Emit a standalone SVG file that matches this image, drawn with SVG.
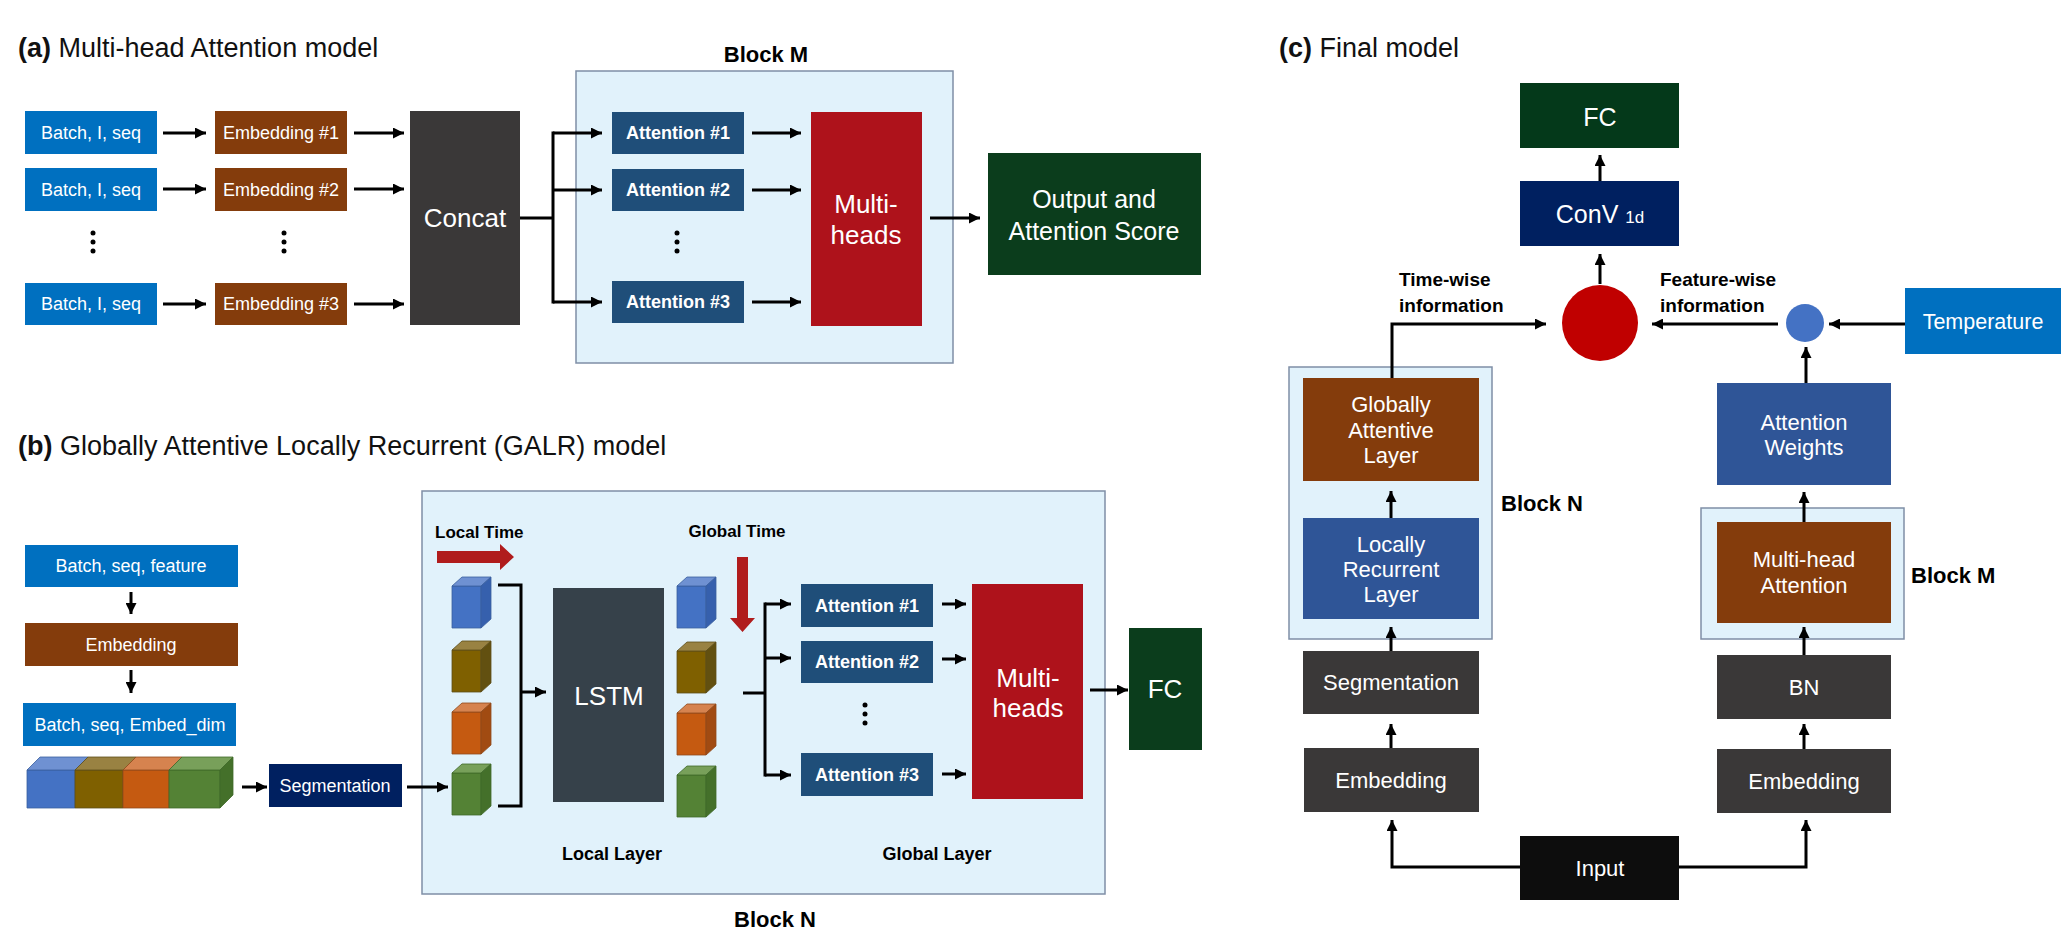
<svg xmlns="http://www.w3.org/2000/svg" width="2069" height="938" viewBox="0 0 2069 938">
<style>
text{font-family:"Liberation Sans",Arial,sans-serif;}
.t{fill:#fff;text-anchor:middle;}
.s18{font-size:18px;}
.s22{font-size:22px;}
.s26{font-size:26px;}
.b{font-weight:bold;}
.lbl{fill:#000;font-weight:bold;}
.title{font-size:27px;fill:#111;}
.blue{fill:#0070c0;}
.brown{fill:#843c0c;}
.gray{fill:#3a3838;}
.att{fill:#1f4e79;}
.mh{fill:#ae121b;}
.green{fill:#0b3d1c;}
.navy{fill:#002060;}
.lstm{fill:#36414a;}
.mblue{fill:#2f5597;}
.blk{fill:#e1f2fb;stroke:#7f8ea6;stroke-width:1.5;}
.ln{fill:none;stroke:#000;stroke-width:3;}
.ar{marker-end:url(#ah);}
.dot{fill:#000;}
.cb{stroke-width:0.8;stroke-linejoin:round;}
.cblue .f{fill:#4472c4}.cblue .tp{fill:#6f91d2}.cblue .sd{fill:#3660ad}.cblue{stroke:#3a5f9e}
.colive .f{fill:#7f6000}.colive .tp{fill:#998242}.colive .sd{fill:#625010}.colive{stroke:#5d4e1a}
.corange .f{fill:#c55a11}.corange .tp{fill:#d6834f}.corange .sd{fill:#a14b12}.corange{stroke:#8f4a1c}
.cgreen .f{fill:#548235}.cgreen .tp{fill:#78a05a}.cgreen .sd{fill:#44702a}.cgreen{stroke:#3f6a2a}
</style>
<defs>
<marker id="ah" viewBox="0 0 10 10" refX="10" refY="5" markerWidth="11" markerHeight="11" markerUnits="userSpaceOnUse" orient="auto"><path d="M0,0 L10,5 L0,10 z" fill="#000"/></marker>
</defs>
<rect width="2069" height="938" fill="#fff"/>

<!-- Titles -->
<text x="18" y="57" class="title"><tspan font-weight="bold">(a)</tspan> Multi-head Attention model</text>
<text x="18" y="455" class="title"><tspan font-weight="bold">(b)</tspan> Globally Attentive Locally Recurrent (GALR) model</text>
<text x="1279" y="57" class="title"><tspan font-weight="bold">(c)</tspan> Final model</text>

<!-- ===== (a) ===== -->
<g id="a-blockM">
<rect class="blk" x="576" y="71" width="377" height="292"/>
<text x="766" y="62" class="lbl s22" text-anchor="middle">Block M</text>
</g>
<g id="a-batch1"><rect class="blue" x="25" y="111" width="132" height="43"/><text class="t s18" x="91" y="139">Batch, I, seq</text></g>
<g id="a-batch2"><rect class="blue" x="25" y="168" width="132" height="43"/><text class="t s18" x="91" y="196">Batch, I, seq</text></g>
<g id="a-batch3"><rect class="blue" x="25" y="283" width="132" height="42"/><text class="t s18" x="91" y="310">Batch, I, seq</text></g>
<g id="a-emb1"><rect class="brown" x="215" y="111" width="132" height="43"/><text class="t s18" x="281" y="139">Embedding #1</text></g>
<g id="a-emb2"><rect class="brown" x="215" y="168" width="132" height="43"/><text class="t s18" x="281" y="196">Embedding #2</text></g>
<g id="a-emb3"><rect class="brown" x="215" y="283" width="132" height="42"/><text class="t s18" x="281" y="310">Embedding #3</text></g>
<g id="a-dots"><circle class="dot" cx="93" cy="233" r="2.5"/><circle class="dot" cx="93" cy="242" r="2.5"/><circle class="dot" cx="93" cy="251" r="2.5"/>
<circle class="dot" cx="284" cy="233" r="2.5"/><circle class="dot" cx="284" cy="242" r="2.5"/><circle class="dot" cx="284" cy="251" r="2.5"/>
<circle class="dot" cx="677" cy="233" r="2.5"/><circle class="dot" cx="677" cy="242" r="2.5"/><circle class="dot" cx="677" cy="251" r="2.5"/></g>
<g id="a-concat"><rect class="gray" x="410" y="111" width="110" height="214"/><text class="t s26" x="465" y="227">Concat</text></g>
<g id="a-att1"><rect class="att" x="612" y="112" width="132" height="42"/><text class="t s18 b" x="678" y="139">Attention #1</text></g>
<g id="a-att2"><rect class="att" x="612" y="169" width="132" height="42"/><text class="t s18 b" x="678" y="196">Attention #2</text></g>
<g id="a-att3"><rect class="att" x="612" y="281" width="132" height="42"/><text class="t s18 b" x="678" y="308">Attention #3</text></g>
<g id="a-multi"><rect class="mh" x="811" y="112" width="111" height="214"/><text class="t s26" x="866" y="213">Multi-</text><text class="t s26" x="866" y="244">heads</text></g>
<g id="a-out"><rect class="green" x="988" y="153" width="213" height="122"/><text class="t" font-size="25" x="1094" y="208">Output and</text><text class="t" font-size="25" x="1094" y="240">Attention Score</text></g>

<g id="a-connectors">
<line class="ln ar" x1="163" y1="133" x2="206" y2="133"/>
<line class="ln ar" x1="163" y1="189" x2="206" y2="189"/>
<line class="ln ar" x1="163" y1="304" x2="206" y2="304"/>
<line class="ln ar" x1="354" y1="133" x2="404" y2="133"/>
<line class="ln ar" x1="354" y1="189" x2="404" y2="189"/>
<line class="ln ar" x1="354" y1="304" x2="404" y2="304"/>
<line class="ln" x1="520" y1="218" x2="553" y2="218"/>
<line class="ln" x1="553" y1="131.5" x2="553" y2="303.5"/>
<line class="ln ar" x1="553" y1="133" x2="602" y2="133"/>
<line class="ln ar" x1="553" y1="190" x2="602" y2="190"/>
<line class="ln ar" x1="553" y1="302" x2="602" y2="302"/>
<line class="ln ar" x1="752" y1="133" x2="801" y2="133"/>
<line class="ln ar" x1="752" y1="190" x2="801" y2="190"/>
<line class="ln ar" x1="752" y1="302" x2="801" y2="302"/>
<line class="ln ar" x1="930" y1="218" x2="980" y2="218"/>
</g>

<!-- ===== (b) ===== -->
<g id="b-blockN">
<rect class="blk" x="422" y="491" width="683" height="403"/>
<text x="775" y="927" class="lbl s22" text-anchor="middle">Block N</text>
<text x="435" y="538" class="lbl" font-size="17">Local Time</text>
<text x="737" y="537" class="lbl" font-size="17" text-anchor="middle">Global Time</text>
<text x="612" y="860" class="lbl" font-size="18" text-anchor="middle">Local Layer</text>
<text x="937" y="860" class="lbl" font-size="18" text-anchor="middle">Global Layer</text>
<polygon fill="#b01c1c" points="437,551 500,551 500,544 514,557 500,570 500,563 437,563"/>
<polygon fill="#b01c1c" points="737,557 748,557 748,618 755,618 742.5,632 730,618 737,618"/>
</g>
<g id="b-in"><rect class="blue" x="25" y="545" width="213" height="42"/><text class="t s18" x="131" y="572">Batch, seq, feature</text></g>
<g id="b-emb"><rect class="brown" x="25" y="623" width="213" height="43"/><text class="t s18" x="131" y="651">Embedding</text></g>
<g id="b-embdim"><rect class="blue" x="23" y="703" width="213" height="43"/><text class="t s18" x="130" y="731">Batch, seq, Embed_dim</text></g>
<g id="b-strip" class="cb">
<g class="cblue"><rect class="f" x="27" y="770" width="48" height="38"/><polygon class="tp" points="27,770 40,757 88,757 75,770"/></g>
<g class="colive"><rect class="f" x="75" y="770" width="48" height="38"/><polygon class="tp" points="75,770 88,757 136,757 123,770"/></g>
<g class="corange"><rect class="f" x="123" y="770" width="46" height="38"/><polygon class="tp" points="123,770 136,757 182,757 169,770"/></g>
<g class="cgreen"><rect class="f" x="169" y="770" width="51" height="38"/><polygon class="tp" points="169,770 182,757 233,757 220,770"/><polygon class="sd" points="220,770 233,757 233,795 220,808"/></g>
</g>
<g id="b-seg"><rect class="navy" x="269" y="764" width="133" height="43"/><text class="t s18" x="335" y="792">Segmentation</text></g>
<g id="b-cubes-in">
<g class="cb cblue" transform="translate(452,586)"><rect class="f" x="0" y="0" width="29" height="42"/><polygon class="tp" points="0,0 10,-9 39,-9 29,0"/><polygon class="sd" points="29,0 39,-9 39,33 29,42"/></g>
<g class="cb colive" transform="translate(452,650)"><rect class="f" x="0" y="0" width="29" height="42"/><polygon class="tp" points="0,0 10,-9 39,-9 29,0"/><polygon class="sd" points="29,0 39,-9 39,33 29,42"/></g>
<g class="cb corange" transform="translate(452,712)"><rect class="f" x="0" y="0" width="29" height="42"/><polygon class="tp" points="0,0 10,-9 39,-9 29,0"/><polygon class="sd" points="29,0 39,-9 39,33 29,42"/></g>
<g class="cb cgreen" transform="translate(452,773)"><rect class="f" x="0" y="0" width="29" height="42"/><polygon class="tp" points="0,0 10,-9 39,-9 29,0"/><polygon class="sd" points="29,0 39,-9 39,33 29,42"/></g>
</g>
<g id="b-lstm"><rect class="lstm" x="553" y="588" width="111" height="214"/><text class="t s26" x="609" y="705">LSTM</text></g>
<g id="b-cubes-out">
<g class="cb cblue" transform="translate(677,586)"><rect class="f" x="0" y="0" width="29" height="42"/><polygon class="tp" points="0,0 10,-9 39,-9 29,0"/><polygon class="sd" points="29,0 39,-9 39,33 29,42"/></g>
<g class="cb colive" transform="translate(677,651)"><rect class="f" x="0" y="0" width="29" height="42"/><polygon class="tp" points="0,0 10,-9 39,-9 29,0"/><polygon class="sd" points="29,0 39,-9 39,33 29,42"/></g>
<g class="cb corange" transform="translate(677,713)"><rect class="f" x="0" y="0" width="29" height="42"/><polygon class="tp" points="0,0 10,-9 39,-9 29,0"/><polygon class="sd" points="29,0 39,-9 39,33 29,42"/></g>
<g class="cb cgreen" transform="translate(677,775)"><rect class="f" x="0" y="0" width="29" height="42"/><polygon class="tp" points="0,0 10,-9 39,-9 29,0"/><polygon class="sd" points="29,0 39,-9 39,33 29,42"/></g>
</g>
<g id="b-att1"><rect class="att" x="801" y="584" width="132" height="43"/><text class="t s18 b" x="867" y="612">Attention #1</text></g>
<g id="b-att2"><rect class="att" x="801" y="641" width="132" height="42"/><text class="t s18 b" x="867" y="668">Attention #2</text></g>
<g id="b-att3"><rect class="att" x="801" y="753" width="132" height="43"/><text class="t s18 b" x="867" y="781">Attention #3</text></g>
<g id="b-dots"><circle class="dot" cx="865" cy="705" r="2.5"/><circle class="dot" cx="865" cy="714" r="2.5"/><circle class="dot" cx="865" cy="723" r="2.5"/></g>
<g id="b-multi"><rect class="mh" x="972" y="584" width="111" height="215"/><text class="t s26" x="1028" y="687">Multi-</text><text class="t s26" x="1028" y="717">heads</text></g>
<g id="b-fc"><rect class="green" x="1129" y="628" width="73" height="122"/><text class="t s26" x="1165" y="698">FC</text></g>

<g id="b-connectors">
<line class="ln ar" x1="131" y1="592" x2="131" y2="614"/>
<line class="ln ar" x1="131" y1="670" x2="131" y2="693"/>
<line class="ln ar" x1="242" y1="787" x2="267" y2="787"/>
<line class="ln ar" x1="407" y1="787" x2="448" y2="787"/>
<polyline class="ln" points="498,585 521,585 521,806 498,806"/>
<line class="ln ar" x1="521" y1="692" x2="546" y2="692"/>
<line class="ln" x1="743" y1="693" x2="765" y2="693"/>
<line class="ln" x1="765" y1="602.5" x2="765" y2="776.5"/>
<line class="ln ar" x1="765" y1="604" x2="791" y2="604"/>
<line class="ln ar" x1="765" y1="658" x2="791" y2="658"/>
<line class="ln ar" x1="765" y1="775" x2="791" y2="775"/>
<line class="ln ar" x1="942" y1="604" x2="966" y2="604"/>
<line class="ln ar" x1="942" y1="659" x2="966" y2="659"/>
<line class="ln ar" x1="942" y1="774" x2="966" y2="774"/>
<line class="ln ar" x1="1090" y1="690" x2="1128" y2="690"/>
</g>

<!-- ===== (c) ===== -->
<g id="c-blockN">
<rect class="blk" x="1289" y="367" width="203" height="272"/>
<text x="1501" y="511" class="lbl s22">Block N</text>
</g>
<g id="c-blockM">
<rect class="blk" x="1701" y="508" width="203" height="131"/>
<text x="1911" y="583" class="lbl s22">Block M</text>
</g>
<g id="c-fc"><rect fill="#04391a" x="1520" y="83" width="159" height="65"/><text class="t" font-size="25" x="1600" y="126">FC</text></g>
<g id="c-conv"><rect class="navy" x="1520" y="181" width="159" height="65"/><text class="t" x="1600" y="223"><tspan font-size="25">ConV </tspan><tspan font-size="17">1d</tspan></text></g>
<g id="c-merge"><circle cx="1600" cy="323" r="38" fill="#c00000"/></g>
<g id="c-feat"><circle cx="1805" cy="323" r="19" fill="#4472c4"/></g>
<g id="c-temp"><rect class="blue" x="1905" y="288" width="156" height="66"/><text class="t" font-size="21.5" x="1983" y="329">Temperature</text></g>
<g id="c-labels">
<text x="1399" y="286" class="lbl" font-size="19">Time-wise</text>
<text x="1399" y="312" class="lbl" font-size="19">information</text>
<text x="1660" y="286" class="lbl" font-size="19">Feature-wise</text>
<text x="1660" y="312" class="lbl" font-size="19">information</text>
</g>
<g id="c-gal"><rect class="brown" x="1303" y="378" width="176" height="103"/><text class="t s22" x="1391" y="412">Globally</text><text class="t s22" x="1391" y="438">Attentive</text><text class="t s22" x="1391" y="463">Layer</text></g>
<g id="c-lrl"><rect class="mblue" x="1303" y="518" width="176" height="101"/><text class="t s22" x="1391" y="552">Locally</text><text class="t s22" x="1391" y="577">Recurrent</text><text class="t s22" x="1391" y="602">Layer</text></g>
<g id="c-seg"><rect class="gray" x="1303" y="651" width="176" height="63"/><text class="t s22" x="1391" y="690">Segmentation</text></g>
<g id="c-emb1"><rect class="gray" x="1304" y="748" width="175" height="64"/><text class="t s22" x="1391" y="788">Embedding</text></g>
<g id="c-aw"><rect class="mblue" x="1717" y="383" width="174" height="102"/><text class="t s22" x="1804" y="430">Attention</text><text class="t s22" x="1804" y="455">Weights</text></g>
<g id="c-mha"><rect class="brown" x="1717" y="522" width="174" height="101"/><text class="t s22" x="1804" y="567">Multi-head</text><text class="t s22" x="1804" y="593">Attention</text></g>
<g id="c-bn"><rect class="gray" x="1717" y="655" width="174" height="64"/><text class="t s22" x="1804" y="695">BN</text></g>
<g id="c-emb2"><rect class="gray" x="1717" y="749" width="174" height="64"/><text class="t s22" x="1804" y="789">Embedding</text></g>
<g id="c-input"><rect fill="#0d0d0d" x="1520" y="836" width="159" height="64"/><text class="t s22" x="1600" y="876">Input</text></g>

<g id="c-connectors">
<line class="ln ar" x1="1600" y1="181" x2="1600" y2="155"/>
<line class="ln ar" x1="1600" y1="284" x2="1600" y2="254"/>
<polyline class="ln ar" points="1392,378 1392,324 1546,324"/>
<line class="ln ar" x1="1778" y1="324" x2="1652" y2="324"/>
<line class="ln ar" x1="1905" y1="324" x2="1829" y2="324"/>
<line class="ln ar" x1="1806" y1="383" x2="1806" y2="347"/>
<line class="ln ar" x1="1804" y1="522" x2="1804" y2="492"/>
<line class="ln ar" x1="1804" y1="655" x2="1804" y2="627"/>
<line class="ln ar" x1="1804" y1="749" x2="1804" y2="724"/>
<line class="ln ar" x1="1391" y1="518" x2="1391" y2="491"/>
<line class="ln ar" x1="1391" y1="651" x2="1391" y2="627"/>
<line class="ln ar" x1="1391" y1="748" x2="1391" y2="724"/>
<polyline class="ln ar" points="1520,867 1392,867 1392,820"/>
<polyline class="ln ar" points="1679,867 1806,867 1806,820"/>
</g>
</svg>
